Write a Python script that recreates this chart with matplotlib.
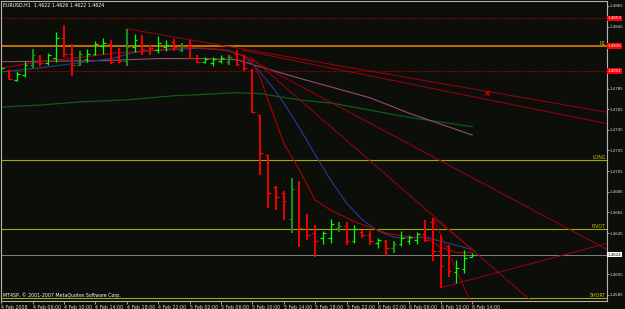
import matplotlib.pyplot as plt

# EURUSD H1, 4 Feb 2008 02:00 .. 6 Feb 2008 14:00
opens = [1.4801, 1.4802, 1.4793, 1.4798, 1.4808, 1.4816, 1.4810, 1.4815, 1.4834, 1.4818,
         1.4808, 1.4814, 1.4818, 1.4826, 1.4828, 1.4816, 1.4812, 1.4825, 1.4834, 1.4826,
         1.4822, 1.4825, 1.4830, 1.4822, 1.4826, 1.4815, 1.4811, 1.4810, 1.4812, 1.4811,
         1.4818, 1.4810, 1.4803, 1.4759, 1.4721, 1.4690, 1.4684, 1.4659, 1.4688, 1.4660,
         1.4645, 1.4640, 1.4640, 1.4650, 1.4652, 1.4637, 1.4646, 1.4643, 1.4635, 1.4637,
         1.4630, 1.4634, 1.4637, 1.4638, 1.4644, 1.4656, 1.4628, 1.4632, 1.4607, 1.4610,
         1.4622]
highs = [1.4806, 1.4803, 1.4802, 1.4812, 1.4823, 1.4817, 1.4819, 1.4840, 1.4847, 1.4828,
         1.4821, 1.4823, 1.4831, 1.4834, 1.4832, 1.4824, 1.4843, 1.4838, 1.4837, 1.4827,
         1.4836, 1.4832, 1.4833, 1.4829, 1.4832, 1.4817, 1.4816, 1.4816, 1.4817, 1.4817,
         1.4822, 1.4817, 1.4804, 1.4759, 1.4721, 1.4691, 1.4686, 1.4698, 1.4695, 1.4663,
         1.4653, 1.4647, 1.4659, 1.4656, 1.4656, 1.4653, 1.4648, 1.4647, 1.4640, 1.4638,
         1.4637, 1.4647, 1.4643, 1.4646, 1.4658, 1.4660, 1.4643, 1.4633, 1.4619, 1.4629,
         1.4626]
lows = [1.4800, 1.4793, 1.4792, 1.4796, 1.4805, 1.4807, 1.4808, 1.4811, 1.4816, 1.4797,
        1.4807, 1.4811, 1.4817, 1.4818, 1.4809, 1.4810, 1.4807, 1.4820, 1.4817, 1.4817,
        1.4819, 1.4821, 1.4821, 1.4820, 1.4814, 1.4810, 1.4810, 1.4807, 1.4810, 1.4808,
        1.4807, 1.4802, 1.4761, 1.4701, 1.4669, 1.4667, 1.4658, 1.4645, 1.4631, 1.4638,
        1.4622, 1.4634, 1.4635, 1.4646, 1.4633, 1.4635, 1.4640, 1.4633, 1.4630, 1.4623,
        1.4626, 1.4632, 1.4634, 1.4634, 1.4636, 1.4618, 1.4592, 1.4602, 1.4597, 1.4606,
        1.4622]
closes = [1.4805, 1.4794, 1.4799, 1.4808, 1.4817, 1.4810, 1.4817, 1.4834, 1.4818, 1.4808,
          1.4818, 1.4818, 1.4828, 1.4829, 1.4811, 1.4812, 1.4825, 1.4832, 1.4823, 1.4824,
          1.4829, 1.4827, 1.4825, 1.4826, 1.4815, 1.4811, 1.4814, 1.4814, 1.4815, 1.4816,
          1.4809, 1.4805, 1.4762, 1.4723, 1.4684, 1.4680, 1.4676, 1.4688, 1.4650, 1.4643,
          1.4637, 1.4645, 1.4654, 1.4652, 1.4637, 1.4649, 1.4643, 1.4637, 1.4638, 1.4630,
          1.4634, 1.4640, 1.4641, 1.4644, 1.4638, 1.4628, 1.4613, 1.4608, 1.4611, 1.4621,
          1.4624]

time_labels = ["4 Feb 2008", "4 Feb 06:00", "4 Feb 10:00", "4 Feb 14:00", "4 Feb 18:00",
               "4 Feb 22:00", "5 Feb 02:00", "5 Feb 06:00", "5 Feb 10:00", "5 Feb 14:00",
               "5 Feb 18:00", "5 Feb 22:00", "6 Feb 02:00", "6 Feb 06:00", "6 Feb 10:00",
               "6 Feb 14:00"]
price_ticks = [1.4865, 1.4845, 1.4785, 1.4765, 1.4745, 1.4725, 1.4705, 1.4685,
               1.4665, 1.4645, 1.4605, 1.4585]

# moving averages (bar index, value)
ma_fast_x = [0, 5, 10, 14, 19, 24, 28, 31, 32, 33, 34, 36, 38, 40, 42, 45, 49, 52, 54, 56, 58, 60]
ma_fast_y = [1.4805, 1.4811, 1.4815, 1.4819, 1.4822, 1.4825, 1.4823, 1.4817, 1.4811, 1.4796,
             1.4774, 1.4732, 1.4706, 1.4677, 1.4667, 1.4656, 1.4645, 1.4641, 1.4641, 1.4631,
             1.4626, 1.4626]
ma_blue_x = [0, 5, 10, 14, 17, 20, 25, 29, 31, 33, 35, 36, 38, 40, 42, 44, 46, 48, 50, 52, 54, 56, 58, 60]
ma_blue_y = [1.4801, 1.4805, 1.4810, 1.4814, 1.4820, 1.4822, 1.4824, 1.4822, 1.4816, 1.4801,
             1.4782, 1.4771, 1.4747, 1.4721, 1.4696, 1.4674, 1.4658, 1.4647, 1.4641, 1.4640,
             1.4641, 1.4637, 1.4633, 1.4629]
ma_pink_x = [0, 13, 20, 25, 30, 33, 38, 47, 52, 60]
ma_pink_y = [1.4811, 1.4812, 1.4814, 1.4814, 1.4813, 1.4806, 1.4795, 1.4776, 1.4761, 1.4740]
ma_slow_x = [0, 5, 10, 16, 22, 25, 30, 33, 38, 42, 47, 52, 60]
ma_slow_y = [1.4767, 1.4769, 1.4772, 1.4774, 1.4778, 1.4779, 1.4781, 1.4780, 1.4774, 1.4771,
             1.4764, 1.4757, 1.4748]

# levels
r_levels = [1.4853, 1.4826, 1.4802]
long_level, pivot_level, short_level = 1.4716, 1.4649, 1.4582
last_price = 1.4624

# trend lines: (bar1, price1, bar2, price2)
trend_lines = [
    (15.9, 1.4843, 77.2, 1.4762),
    (30.8, 1.4822, 77.2, 1.4751),
    (30.8, 1.4817, 77.2, 1.4629),
    (31.7, 1.4816, 67.4, 1.4580),
    (56.0, 1.4592, 77.2, 1.4635),
    (55.0, 1.4660, 60.4, 1.4627),
    (55.0, 1.4660, 59.7, 1.4580),
]

bg = '#0c0e0a'
fs = 3.4
fs_axis = 2.9
fig = plt.figure(figsize=(6.25, 3.09), dpi=100, facecolor=bg)
ax = fig.add_axes([1 / 625, 8.5 / 309, 606 / 625, 299.5 / 309])
ax.set_facecolor(bg)
ax.set_xlim(-0.013, 77.18)
ax.set_ylim(1.45796, 1.48698)

# levels
ax.axhline(r_levels[0], color='#b00000', lw=0.8, ls=(0, (1, 1)))
ax.axhline(r_levels[2], color='#b00000', lw=0.8, ls=(0, (1, 1)))
ax.axhline(r_levels[1], color='#e08000', lw=1.2)
for lv in (long_level, pivot_level, short_level):
    ax.axhline(lv, color='#a8a800', lw=0.8)
ax.axhline(last_price, color='#808080', lw=0.7)

# moving averages
ax.plot(ma_slow_x, ma_slow_y, color='#0e5a16', lw=0.9)
ax.plot(ma_pink_x, ma_pink_y, color='#9a4a6e', lw=0.8)
ax.plot(ma_blue_x, ma_blue_y, color='#2c3a90', lw=0.8)
ax.plot(ma_fast_x, ma_fast_y, color='#b00000', lw=0.8)

# trend lines
for x1, y1, x2, y2 in trend_lines:
    ax.plot([x1, x2], [y1, y2], color='#a00010', lw=0.7)
ax.plot([61.9], [1.4781], marker='x', color='#e00000', ms=2.5, mew=0.8)

# bars
dark_bars = [4, 10, 16, 23, 29, 37, 43, 50]
for i in range(len(opens)):
    if closes[i] < opens[i]:
        col, lw = '#ff0000', 1.3
    elif i in dark_bars:
        col, lw = '#1c8c1c', 1.5
    else:
        col, lw = '#00ff00', 0.9
    ax.vlines(i, lows[i], highs[i], color=col, lw=lw, zorder=5)
    ax.hlines(opens[i], i - 0.35, i, color=col, lw=0.9, zorder=5)
    ax.hlines(closes[i], i, i + 0.35, color=col, lw=0.9, zorder=5)

# axes styling
for s in ax.spines.values():
    s.set_color('#b4b4b4')
    s.set_linewidth(0.8)
ax.yaxis.tick_right()
ax.set_yticks(price_ticks)
ax.set_yticklabels([f"{p:.4f}" for p in price_ticks])
ax.set_xticks(range(0, 61, 4))
ax.set_xticklabels(time_labels, ha='left')
ax.tick_params(colors='#b4b4b4', labelcolor='#d8d8d8', labelsize=fs, length=2, width=0.6, pad=1)
ax.tick_params(axis='y', labelsize=fs_axis, length=1.5, pad=0.6)

# axis price boxes
for lv in r_levels:
    ax.text(1.0015, lv, f"{lv:.4f}", transform=ax.get_yaxis_transform(), fontsize=fs_axis,
            color='white', va='center', ha='left',
            bbox=dict(boxstyle='square,pad=0.2', fc='#ff0000', ec='none'))
ax.text(1.0015, last_price, f"{last_price:.4f}", transform=ax.get_yaxis_transform(), fontsize=fs_axis,
        color='black', va='center', ha='left',
        bbox=dict(boxstyle='square,pad=0.2', fc='white', ec='none'))

# level captions
for lv, name in ((r_levels[1], "R1"), (long_level, "LONG"), (pivot_level, "PIVOT"), (short_level, "SHORT")):
    ax.text(0.998, lv, name, transform=ax.get_yaxis_transform(), fontsize=fs,
            color='#c8c800', va='bottom', ha='right')

ax.text(0.003, 0.993, "EURUSD,H1  1.4622 1.4626 1.4622 1.4624", transform=ax.transAxes,
        fontsize=fs, color='white', va='top', ha='left')
ax.text(0.003, 0.01, "MT4SP, © 2001-2007 MetaQuotes Software Corp.", transform=ax.transAxes,
        fontsize=fs, color='white', va='bottom', ha='left')

fig.savefig('out.png', dpi=100, facecolor=bg)
